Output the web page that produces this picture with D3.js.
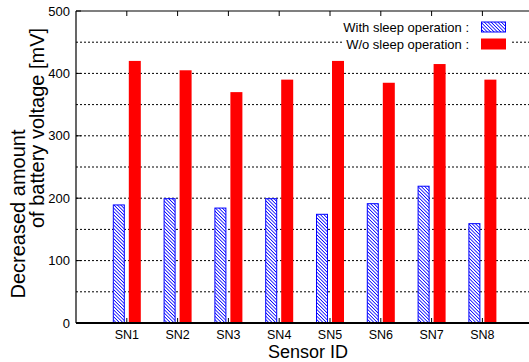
<!DOCTYPE html>
<html>
<head>
<meta charset="utf-8">
<script src="https://cdn.jsdelivr.net/npm/d3@7"></script>
<style>
  body { margin: 0; background: #fff; }
  text { font-family: "Liberation Sans", Arial, sans-serif; fill: #000; }
</style>
</head>
<body>
<div id="chart"></div>
<script>
// Data
const sensors = ["SN1", "SN2", "SN3", "SN4", "SN5", "SN6", "SN7", "SN8"];
const withSleep = [190, 200, 185, 200, 175, 192, 220, 160];
const withoutSleep = [420, 405, 370, 390, 420, 385, 415, 390];
const seriesNames = ["With sleep operation :", "W/o sleep operation :"];
const yTicks = [0, 100, 200, 300, 400, 500];
const gridValues = [50, 100, 150, 200, 250, 300, 350, 400, 450];

const width = 529, height = 362;
const margin = { top: 11, right: 0, bottom: 39, left: 76 };

const svg = d3.select("#chart").append("svg")
  .attr("width", width)
  .attr("height", height);

// hatch pattern for the "with sleep" bars (lines running down to the right)
const defs = svg.append("defs");
const pat = defs.append("pattern")
  .attr("id", "hatch")
  .attr("patternUnits", "userSpaceOnUse")
  .attr("width", 2.4).attr("height", 2.4)
  .attr("patternTransform", "rotate(-45)");
pat.append("rect").attr("width", 2.4).attr("height", 2.4).attr("fill", "#fff");
pat.append("line")
  .attr("x1", 0).attr("y1", 0).attr("x2", 0).attr("y2", 2.4)
  .attr("stroke", "#0000ff").attr("stroke-width", 1.6);

// x: category index 0..9, SN1 at 1
const x = d3.scaleLinear().domain([0, 9]).range([margin.left, margin.left + 9 * 50.8]);
const y = d3.scaleLinear().domain([0, 500]).range([height - margin.bottom, margin.top]);
const offset = d3.scaleBand().domain(["with", "wo"]).range([-14, 14]).paddingInner(0.25);

// grid lines
svg.append("g").selectAll("line").data(gridValues).enter().append("line")
  .attr("x1", margin.left).attr("x2", width)
  .attr("y1", d => y(d)).attr("y2", d => y(d))
  .attr("stroke", "#000").attr("stroke-width", 1)
  .attr("stroke-dasharray", "2,2");

// bars
const rows = sensors.map((s, i) => ({ s, i: i + 1, w: withSleep[i], wo: withoutSleep[i] }));
svg.append("g").selectAll("rect").data(rows).enter().append("rect")
  .attr("x", d => x(d.i) + offset("with") + 0.5)
  .attr("y", d => y(d.w) + 0.5)
  .attr("width", offset.bandwidth() - 1)
  .attr("height", d => y(0) - y(d.w) - 0.5)
  .attr("fill", "url(#hatch)")
  .attr("stroke", "#0000ff").attr("stroke-width", 1);

svg.append("g").selectAll("rect").data(rows).enter().append("rect")
  .attr("x", d => x(d.i) + offset("wo"))
  .attr("y", d => y(d.wo))
  .attr("width", offset.bandwidth())
  .attr("height", d => y(0) - y(d.wo))
  .attr("fill", "#ff0000");

// frame: left and top lines, bold bottom axis
svg.append("line").attr("x1", margin.left).attr("x2", margin.left)
  .attr("y1", y(500)).attr("y2", y(0)).attr("stroke", "#000").attr("stroke-width", 1.2);
svg.append("line").attr("x1", margin.left).attr("x2", width)
  .attr("y1", y(500)).attr("y2", y(500)).attr("stroke", "#000").attr("stroke-width", 1.2);
svg.append("line").attr("x1", margin.left).attr("x2", width)
  .attr("y1", y(0)).attr("y2", y(0)).attr("stroke", "#000").attr("stroke-width", 2);

// x ticks, bottom and top (inward)
const xIdx = sensors.map((s, i) => i + 1);
svg.append("g").selectAll("line").data(xIdx).enter().append("line")
  .attr("x1", d => x(d)).attr("x2", d => x(d))
  .attr("y1", y(0)).attr("y2", y(0) - 5)
  .attr("stroke", "#000");
svg.append("g").selectAll("line").data(xIdx).enter().append("line")
  .attr("x1", d => x(d)).attr("x2", d => x(d))
  .attr("y1", y(500)).attr("y2", y(500) + 5)
  .attr("stroke", "#000");

// y ticks
svg.append("g").selectAll("line").data(yTicks).enter().append("line")
  .attr("x1", margin.left).attr("x2", margin.left + 5)
  .attr("y1", d => y(d)).attr("y2", d => y(d))
  .attr("stroke", "#000");

// tick labels
svg.append("g").selectAll("text").data(yTicks).enter().append("text")
  .attr("x", margin.left - 6)
  .attr("y", d => y(d) + 4.5)
  .attr("text-anchor", "end")
  .style("font-size", "13px")
  .text(d => d);

svg.append("g").selectAll("text").data(rows).enter().append("text")
  .attr("x", d => x(d.i))
  .attr("y", y(0) + 16)
  .attr("text-anchor", "middle")
  .style("font-size", "12.5px")
  .text(d => d.s);

// axis titles
svg.append("text")
  .attr("x", 308).attr("y", 358)
  .attr("text-anchor", "middle")
  .style("font-size", "18px")
  .text("Sensor ID");

// the two lines of the y title sit at different heights in the reference
svg.append("text")
  .attr("transform", "translate(25, 214) rotate(-90)")
  .attr("text-anchor", "middle")
  .style("font-size", "20px")
  .text("Decreased amount");
svg.append("text")
  .attr("transform", "translate(44, 128) rotate(-90)")
  .attr("text-anchor", "middle")
  .style("font-size", "20px")
  .text("of battery voltage [mV]");

// legend
const legend = svg.append("g");
legend.append("rect")
  .attr("x", 342).attr("y", 16).attr("width", 168).attr("height", 34)
  .attr("fill", "#fff");
const fills = ["url(#hatch)", "#ff0000"];
seriesNames.forEach((name, i) => {
  const ly = 27 + i * 17;
  legend.append("text")
    .attr("x", 469).attr("y", ly + 4.5)
    .attr("text-anchor", "end")
    .style("font-size", "13px")
    .text(name);
  legend.append("rect")
    .attr("x", i === 0 ? 481.5 : 481).attr("y", ly - 5.5 + (i === 0 ? 0.5 : 0))
    .attr("width", i === 0 ? 24 : 25).attr("height", i === 0 ? 10 : 11)
    .attr("fill", fills[i])
    .attr("stroke", i === 0 ? "#0000ff" : "none");
});
</script>
</body>
</html>
